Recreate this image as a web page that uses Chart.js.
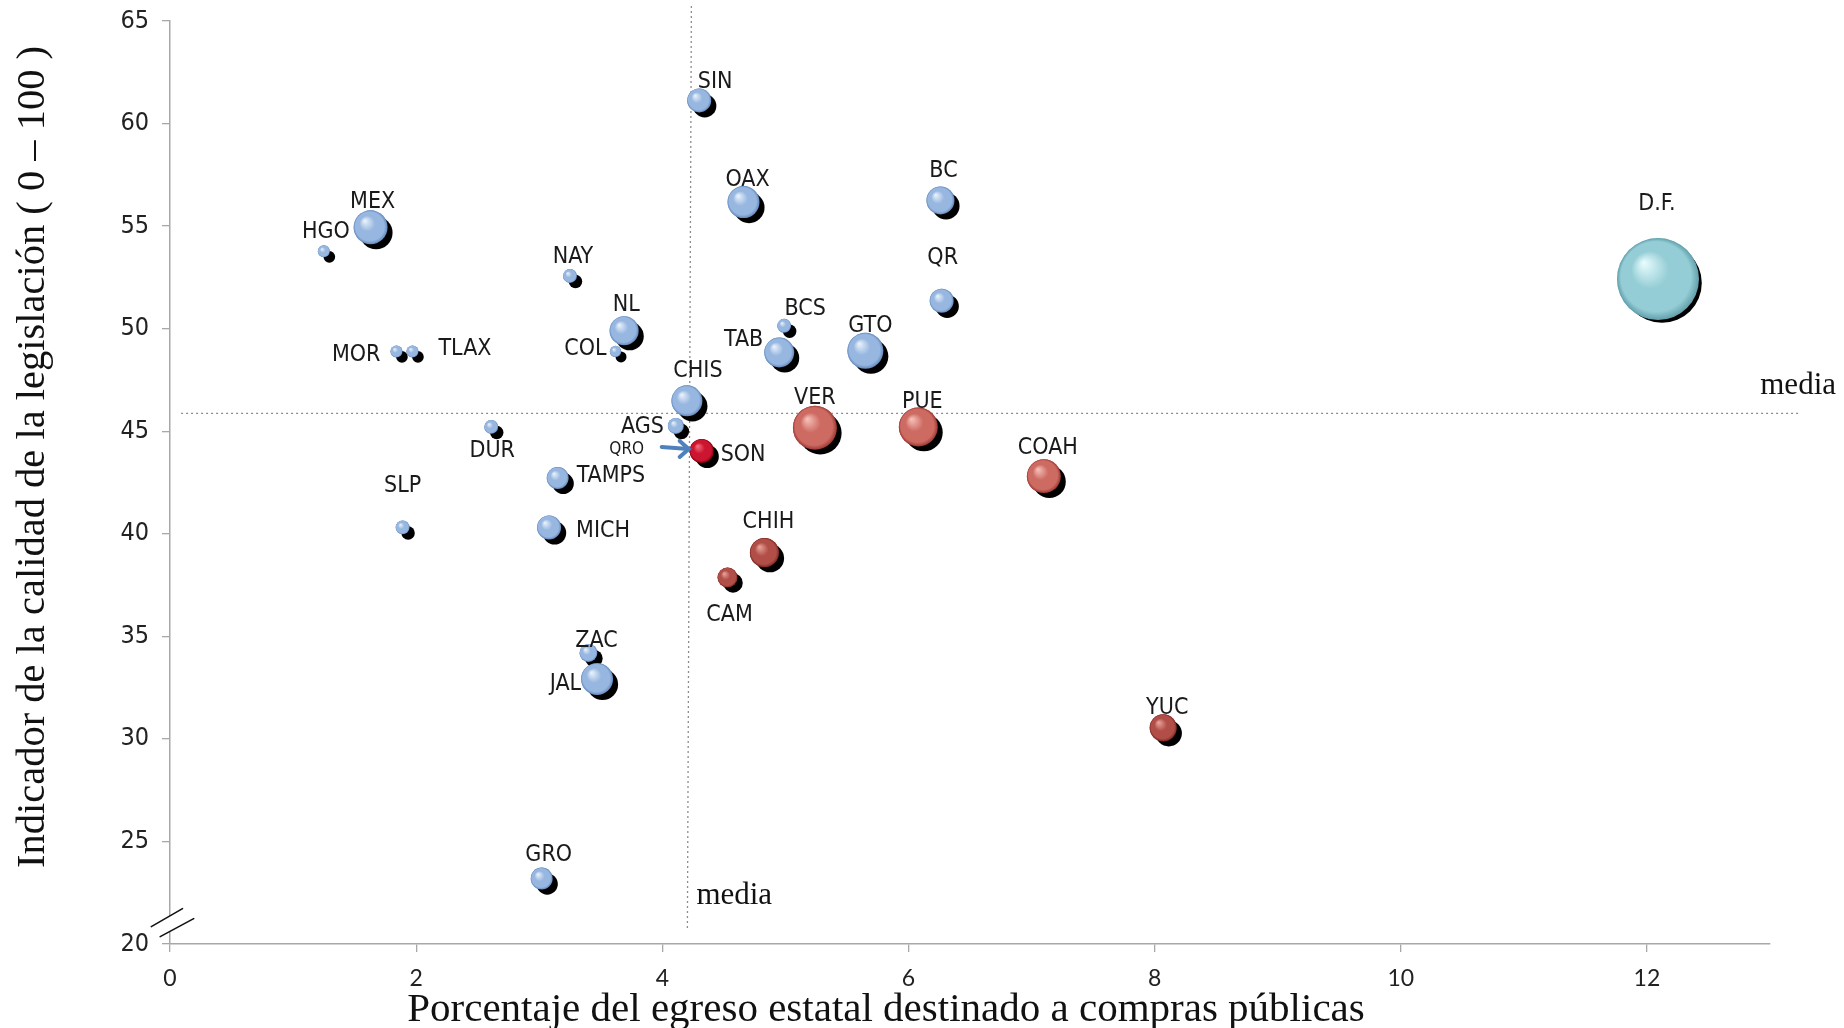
<!DOCTYPE html>
<html><head><meta charset="utf-8">
<script src="https://cdn.jsdelivr.net/npm/chart.js@4.4.1/dist/chart.umd.min.js"></script>
<style>html,body{margin:0;padding:0;background:#fff;overflow:hidden}</style>
</head><body>
<canvas id="c" width="1844" height="1028"></canvas>
<script>
// ---------- DATA ----------
const estados = ['SIN','OAX','BC','QR','NL','COL','BCS','TAB','GTO','CHIS','VER','PUE','QRO','SON','AGS','COAH','CHIH','CAM','YUC','MEX','HGO','NAY','MOR','TLAX','DUR','TAMPS','SLP','MICH','ZAC','JAL','GRO','D.F.'];
const egreso  = [4.30,4.66,6.26,6.27,3.69,3.62,4.99,4.95,5.65,4.20,5.24,6.08,4.32,4.32,4.11,7.10,4.83,4.53,8.07,1.63,1.25,3.25,1.84,1.97,2.61,3.15,1.89,3.08,3.40,3.47,3.02,12.09];
const calidad = [61.13,56.17,56.25,51.36,49.90,48.89,50.14,48.84,48.92,46.48,45.17,45.21,44.04,44.04,45.26,42.81,39.08,37.87,30.54,54.94,53.77,52.57,48.89,48.89,45.21,42.72,40.31,40.31,34.19,32.92,23.19,52.42];
const peso    = [36,64,49,36,53,8,12,56,81,60,121,95,16,36,16,72,53,25,46,72,9,12,9,9,12,30,12,36,20,64,30,420];
const grupo   = ['azul','azul','azul','azul','azul','azul','azul','azul','azul','azul','rojo','rojo','azul','son','azul','rojo','rojoOsc','rojoOsc','rojoOsc','azul','azul','azul','azul','azul','azul','azul','azul','azul','azul','azul','azul','df'];
const xTicks = [0,2,4,6,8,10,12];
const yTicks = [20,25,30,35,40,45,50,55,60,65];
const mediaX = 4.22;
const mediaY = 45.87;
const tituloX = 'Porcentaje del egreso estatal destinado a compras públicas';
const tituloY = 'Indicador de la calidad de la legislación ( 0 – 100 )';
const textoMedia = 'media';

// ---------- STYLE ----------
// label placement: [dx, dy, align] measured from bubble centre
const etiquetaPos = {
  'SIN':[16,-18,'center'],'OAX':[4,-22,'center'],'BC':[3,-29,'center'],'QR':[1,-43,'center'],
  'NL':[2,-26,'center'],'COL':[-9,-2,'right'],'BCS':[21,-17,'center'],'TAB':[-16,-12,'right'],
  'GTO':[5,-25,'center'],'CHIS':[11,-30,'center'],'VER':[0,-30,'center'],'PUE':[4,-25,'center'],
  'QRO':[-75,-1,'center'],'SON':[19,4,'left'],'AGS':[-12,1,'right'],'COAH':[4,-28,'center'],
  'CHIH':[4,-31,'center'],'CAM':[2,38,'center'],'YUC':[4,-20,'center'],'MEX':[2,-25,'center'],
  'HGO':[2,-19,'center'],'NAY':[3,-19,'center'],'MOR':[-16,4,'right'],'TLAX':[26,-2,'left'],
  'DUR':[1,24,'center'],'TAMPS':[19,-2,'left'],'SLP':[0,-41,'center'],'MICH':[27,4,'left'],
  'ZAC':[8,-12,'center'],'JAL':[-16,5,'right'],'GRO':[7,-24,'center'],'D.F.':[-1,-75,'center']
};
const paleta = {
  azul:    {hi:'#eaf2fc', mid:'#97b7e0', lo:'#6389bd'},
  rojo:    {hi:'#f6c0b8', mid:'#cd6a62', lo:'#9c3832'},
  rojoOsc: {hi:'#e8a49c', mid:'#b24e48', lo:'#7e2824'},
  son:     {hi:'#f5707f', mid:'#cc1530', lo:'#85000f'},
  df:      {hi:'#e6fbfd', mid:'#94cdd5', lo:'#629fab'}
};
const fNarrow = '"Liberation Sans Narrow","Arial Narrow","DejaVu Sans Condensed",sans-serif';
const fSerif = '"Liberation Serif","Times New Roman",serif';
const radio = v => 2*Math.sqrt(v);

const decor = {
  id:'decor',
  beforeDatasetsDraw(chart){
    const {ctx, scales:{x,y}} = chart;
    ctx.save();
    ctx.strokeStyle = '#8c8c8c'; ctx.lineWidth = 1.3; ctx.setLineDash([2,3]);
    ctx.beginPath();
    ctx.moveTo(x.getPixelForValue(0.09), y.getPixelForValue(mediaY));
    ctx.lineTo(x.getPixelForValue(13.25), y.getPixelForValue(mediaY));
    ctx.stroke();
    ctx.beginPath();
    ctx.moveTo(x.getPixelForValue(mediaX)+2, y.getPixelForValue(65.73));
    ctx.lineTo(x.getPixelForValue(mediaX)-2, y.getPixelForValue(20.65));
    ctx.stroke();
    ctx.restore();
  },
  afterDatasetsDraw(chart){
    const {ctx, scales:{x,y}} = chart;
    const meta = chart.getDatasetMeta(0);
    ctx.save();
    meta.data.forEach((el,i)=>{
      const r = el.options.radius, cx = el.x, cy = el.y;
      const off = 5.5 - Math.max(0, r-20)*0.07;
      ctx.fillStyle = '#000';
      ctx.beginPath(); ctx.arc(cx+off, cy+off, r*0.97, 0, Math.PI*2); ctx.fill();
      const p = paleta[grupo[i]];
      const g = ctx.createRadialGradient(cx-0.35*r, cy-0.4*r, 0.02*r, cx, cy, r);
      g.addColorStop(0, p.hi); g.addColorStop(0.45, p.mid); g.addColorStop(0.85, p.mid); g.addColorStop(1, p.lo);
      ctx.fillStyle = g;
      ctx.beginPath(); ctx.arc(cx, cy, r, 0, Math.PI*2); ctx.fill();
    });
    // labels
    ctx.fillStyle = '#1a1a1a'; ctx.textBaseline = 'middle';
    meta.data.forEach((el,i)=>{
      const n = estados[i]; const pos = etiquetaPos[n];
      ctx.font = (n==='QRO' ? '17px ' : '23px ') + fNarrow;
      ctx.textAlign = pos[2];
      ctx.fillText(n, el.x + pos[0], el.y + pos[1]);
      if (n==='QRO'){
        const ex = el.x - 13, ey = el.y - 2, sx = ex - 27, sy = ey - 2;
        ctx.strokeStyle = '#4f81bd'; ctx.lineWidth = 4; ctx.lineCap='round';
        ctx.beginPath(); ctx.moveTo(sx, sy); ctx.lineTo(ex, ey); ctx.stroke();
        ctx.beginPath(); ctx.moveTo(ex-9, ey-8); ctx.lineTo(ex, ey); ctx.lineTo(ex-9, ey+8); ctx.stroke();
      }
    });
    // media labels
    ctx.font = '31px ' + fSerif; ctx.fillStyle = '#111';
    ctx.textAlign = 'left';
    ctx.fillText(textoMedia, x.getPixelForValue(mediaX)+7, y.getPixelForValue(22.35));
    ctx.textAlign = 'right';
    ctx.fillText(textoMedia, chart.width-8, y.getPixelForValue(mediaY)-28);
    // axis titles
    ctx.font = '41px ' + fSerif; ctx.textAlign = 'center';
    ctx.fillText(tituloX, 886, 1010);
    ctx.save(); ctx.translate(33, 457); ctx.rotate(-Math.PI/2);
    ctx.font = '40.5px ' + fSerif;
    ctx.fillText(tituloY, 0, 0); ctx.restore();
    // axis break
    const ax = x.left, ay = y.bottom;
    ctx.fillStyle = '#fff';
    ctx.beginPath();
    ctx.moveTo(ax-18.7, ay-17.4); ctx.lineTo(ax+12.5, ay-35.4); ctx.lineTo(ax+23.7, ay-25.4); ctx.lineTo(ax-9.8, ay-7.4); ctx.closePath(); ctx.fill();
    ctx.strokeStyle = '#111'; ctx.lineWidth = 1.6;
    ctx.beginPath(); ctx.moveTo(ax-18.7, ay-17.4); ctx.lineTo(ax+12.5, ay-35.4); ctx.stroke();
    ctx.beginPath(); ctx.moveTo(ax-9.8, ay-7.4); ctx.lineTo(ax+23.7, ay-25.4); ctx.stroke();
    ctx.restore();
  }
};

new Chart(document.getElementById('c'), {
  type:'bubble',
  data:{ datasets:[{
    label:'Estados',
    data: estados.map((n,i)=>({x:egreso[i], y:calidad[i], r:radio(peso[i])})),
    backgroundColor: grupo.map(g=>paleta[g].mid),
    borderWidth:0,
    clip:false,
    radius: c => radio(peso[c.dataIndex])
  }]},
  options:{
    responsive:false, animation:false, events:[],
    devicePixelRatio:1,
    layout:{autoPadding:false, padding:{left:0, top:21, right:74, bottom:0}},
    plugins:{legend:{display:false}, tooltip:{enabled:false}},
    scales:{
      x:{type:'linear', min:0, max:13,
        afterBuildTicks: s => { s.ticks = xTicks.map(v=>({value:v})); },
        afterFit: s => { s.height = 84; s.paddingLeft = 0; s.paddingRight = 0; },
        grid:{display:true, drawOnChartArea:false, tickLength:8, color:'#a8a8a8', lineWidth:1.3},
        border:{color:'#a8a8a8', width:1.5},
        ticks:{font:{family:'Lato, "Open Sans", sans-serif', size:23}, color:'#222', padding:13}
      },
      y:{type:'linear', min:20, max:65,
        afterBuildTicks: s => { s.ticks = yTicks.map(v=>({value:v})); },
        afterFit: s => { s.width = 170; s.paddingTop = 0; s.paddingBottom = 0; },
        grid:{display:true, drawOnChartArea:false, tickLength:8, color:'#a8a8a8', lineWidth:1.3},
        border:{color:'#a8a8a8', width:1.5},
        ticks:{font:{family:fNarrow, size:25}, color:'#222', padding:13}
      }
    }
  },
  plugins:[decor]
});
</script>
</body></html>
